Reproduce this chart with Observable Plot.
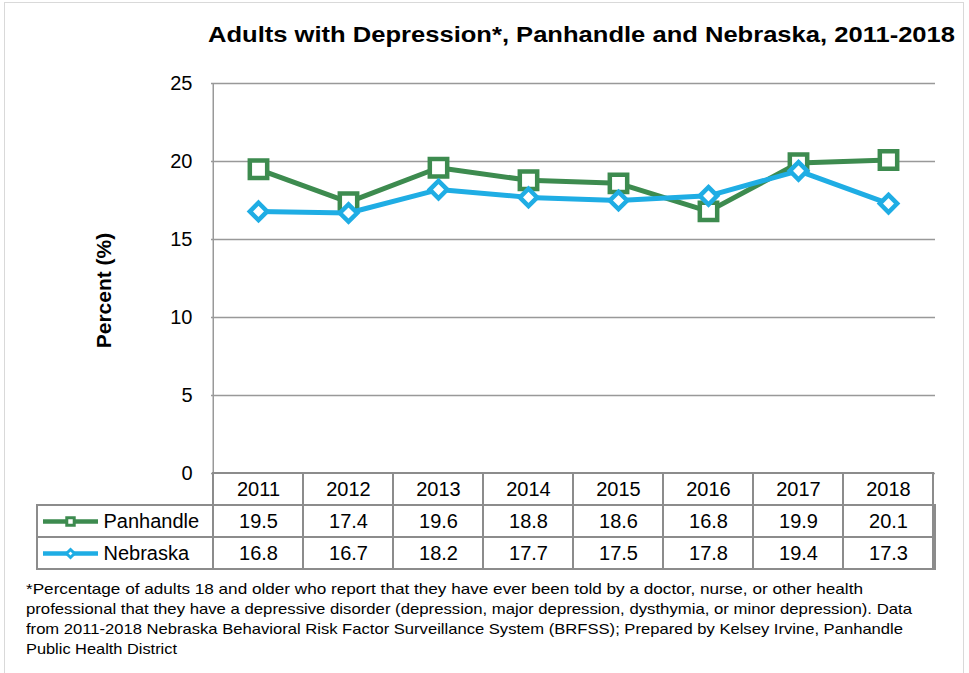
<!DOCTYPE html>
<html>
<head>
<meta charset="utf-8">
<script src="https://cdn.jsdelivr.net/npm/d3@7"></script>
<script src="https://cdn.jsdelivr.net/npm/@observablehq/plot@0.6"></script>
<style>
  html, body { margin: 0; padding: 0; background: white; }
  #wrap { position: relative; width: 969px; height: 673px; overflow: hidden; font-family: "Liberation Sans", Arial, sans-serif; }
  #border { position: absolute; left: 4px; top: 2px; width: 960px; height: 720px; border: 1.5px solid #d9d9d9; box-sizing: border-box; }
  #title { position: absolute; left: 208px; top: 22px; font-size: 22px; font-weight: bold; white-space: nowrap; line-height: normal; color: #000; transform-origin: 0 0; }
  #chart { position: absolute; left: 0; top: 0; }
  #table { position: absolute; left: 0; top: 472px; }
  #caption { position: absolute; left: 26px; top: 579px; font-size: 15px; line-height: 20px; color: #000; }
  #caption div { white-space: nowrap; }
  #caption span { display: inline-block; transform-origin: 0 0; }
</style>
</head>
<body>
<div id="wrap">
  <div id="border"></div>
  <div id="title">Adults with Depression*, Panhandle and Nebraska, 2011-2018</div>
  <div id="chart"></div>
  <div id="table"></div>
  <div id="caption"></div>
</div>
<script>
// ---- data ----
const years = ["2011", "2012", "2013", "2014", "2015", "2016", "2017", "2018"];
const panhandle = [19.5, 17.4, 19.6, 18.8, 18.6, 16.8, 19.9, 20.1];
const nebraska = [16.8, 16.7, 18.2, 17.7, 17.5, 17.8, 19.4, 17.3];
const seriesNames = ["Panhandle", "Nebraska"];
const yTicks = [0, 5, 10, 15, 20, 25];
const captionLines = [
  "*Percentage of adults 18 and older who report that they have ever been told by a doctor, nurse, or other health",
  "professional that they have a depressive disorder (depression, major depression, dysthymia, or minor depression). Data",
  "from 2011-2018 Nebraska Behavioral Risk Factor Surveillance System (BRFSS); Prepared by Kelsey Irvine, Panhandle",
  "Public Health District"
];

// ---- styles / layout ----
const green = "#3d8b4f";
const blue = "#1fade4";
const gridColor = "#999999";
const tableColor = "#8c8c8c";
const W = 969, ML = 211, MR = 34;
const bw = (W - ML - MR) / years.length;
const titleWidth = 747;
const captionWidths = [837, 886, 877, 151];

const panData = years.map((y, i) => ({year: y, value: panhandle[i]}));
const nebData = years.map((y, i) => ({year: y, value: nebraska[i]}));

const chart = Plot.plot({
  width: W,
  height: 476,
  marginTop: 83,
  marginBottom: 3,
  marginLeft: ML,
  marginRight: MR,
  style: {fontFamily: "Liberation Sans, Arial, sans-serif", fontSize: "20px", color: "black", background: "transparent", overflow: "visible"},
  x: {type: "band", domain: years, padding: 0, axis: null},
  y: {domain: [0, 25], axis: null},
  marks: [
    Plot.ruleY(yTicks, {stroke: gridColor, strokeWidth: 1.5}),
    Plot.ruleX([years[0]], {y1: 0, y2: 25, dx: -bw / 2, stroke: gridColor, strokeWidth: 1.5}),
    Plot.axisY({ticks: yTicks, tickSize: 0, tickPadding: 19, fontSize: 20, label: null}),
    Plot.text(["Percent (%)"], {frameAnchor: "left", textAnchor: "middle", dx: -107, dy: 12, rotate: -90, fontWeight: "bold", fontSize: 21}),
    Plot.line(panData, {x: "year", y: "value", stroke: green, strokeWidth: 5}),
    Plot.dot(panData, {x: "year", y: "value", symbol: "square", r: 9.8, stroke: green, strokeWidth: 4.5, fill: "white"}),
    Plot.line(nebData, {x: "year", y: "value", stroke: blue, strokeWidth: 5}),
    Plot.dot(nebData, {x: "year", y: "value", symbol: "diamond2", r: 7.8, stroke: blue, strokeWidth: 4.5, fill: "white"})
  ]
});
document.getElementById("chart").appendChild(chart);

// ---- data table ----
const rows = ["head", ...seriesNames];
const cells = [];
years.forEach((y, i) => {
  cells.push({year: y, row: "head", text: y});
  cells.push({year: y, row: "Panhandle", text: panhandle[i].toFixed(1)});
  cells.push({year: y, row: "Nebraska", text: nebraska[i].toFixed(1)});
});
const legendStyle = {
  Panhandle: {color: green, symbol: "square", r: 4.2},
  Nebraska: {color: blue, symbol: "diamond2", r: 3.6}
};

const legendMarks = seriesNames.flatMap((name) => [
  Plot.ruleY([name], {y: (d) => d, insetLeft: -(ML - 43), insetRight: (W - MR) - 98, stroke: legendStyle[name].color, strokeWidth: 4.5}),
  Plot.dot([name], {y: (d) => d, frameAnchor: "left", dx: -141, symbol: legendStyle[name].symbol, r: legendStyle[name].r, stroke: legendStyle[name].color, strokeWidth: 3, fill: "white"})
]);

const table = Plot.plot({
  width: W,
  height: 100,
  marginTop: 1,
  marginBottom: 3,
  marginLeft: ML,
  marginRight: MR,
  style: {fontFamily: "Liberation Sans, Arial, sans-serif", fontSize: "20px", color: "black", background: "transparent", overflow: "visible"},
  x: {type: "band", domain: years, padding: 0, axis: null},
  y: {type: "band", domain: rows, padding: 0, axis: null},
  marks: [
    Plot.cell(seriesNames, {y: (d) => d, insetLeft: -(ML - 37), fill: "white", stroke: tableColor, strokeWidth: 2}),
    Plot.cell(cells, {x: "year", y: "row", fill: "white", stroke: tableColor, strokeWidth: 2}),
    Plot.text(cells, {x: "year", y: "row", text: "text", fontSize: 20, fill: "black"}),
    ...legendMarks,
    Plot.text(seriesNames, {y: (d) => d, text: (d) => d, frameAnchor: "left", dx: -108, textAnchor: "start", fontSize: 20, fill: "black"})
  ]
});
document.getElementById("table").appendChild(table);

// ---- title stretch to the reference width ----
const titleEl = document.getElementById("title");
const tw = titleEl.getBoundingClientRect().width;
if (tw > 0) titleEl.style.transform = `scaleX(${titleWidth / tw})`;

// ---- caption ----
const cap = document.getElementById("caption");
captionLines.forEach((t, i) => {
  const d = document.createElement("div");
  const s = document.createElement("span");
  s.textContent = t;
  d.appendChild(s);
  cap.appendChild(d);
  const w = s.getBoundingClientRect().width;
  if (w > 0) s.style.transform = `scaleX(${captionWidths[i] / w})`;
});
</script>
</body>
</html>
